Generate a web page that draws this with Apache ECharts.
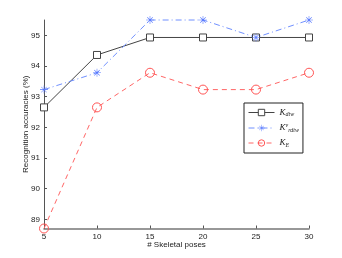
<!DOCTYPE html>
<html><head><meta charset="utf-8">
<script src="https://cdn.jsdelivr.net/npm/echarts@6/dist/echarts.min.js"></script>
<style>html,body{margin:0;padding:0;background:#fff}#c{width:342px;height:258px}</style>
</head><body><div id="c"></div>
<script>
const poses = [5, 10, 15, 20, 25, 30];
const kDtw = [92.65, 94.36, 94.93, 94.93, 94.93, 94.93];
const kRdtw = [93.23, 93.78, 95.5, 95.5, 94.93, 95.5];
const kE = [88.7, 92.65, 93.78, 93.23, 93.23, 93.78];
const xTicks = [5, 10, 15, 20, 25, 30];
const yTicks = [89, 90, 91, 92, 93, 94, 95];

const star = 'path://M0 9.3H20V10.7H0Z M9.3 0H10.7V20H9.3Z M2.6 3.6L3.6 2.6L17.4 16.4L16.4 17.4Z M16.4 2.6L17.4 3.6L3.6 17.4L2.6 16.4Z';
const pair = (ys) => poses.map((x, i) => [x, ys[i]]);
const font = 'Liberation Sans, Arial, sans-serif';

const chart = echarts.init(document.getElementById('c'), null, {renderer: 'canvas'});
chart.setOption({
  animation: false,
  backgroundColor: '#fff',
  grid: {left: 44, right: 33, top: 20, bottom: 29.5, containLabel: false},
  xAxis: {
    type: 'value', min: 5, max: 30, interval: 5,
    name: '# Skeletal poses', nameLocation: 'middle', nameGap: 12, nameMoveOverlap: false,
    nameTextStyle: {fontSize: 8, color: '#222', fontFamily: font},
    axisLine: {lineStyle: {color: '#777', width: 1.5}},
    axisTick: {inside: true, length: 3, lineStyle: {color: '#555'}},
    axisLabel: {fontSize: 8, color: '#222', margin: 4, fontFamily: font},
    splitLine: {show: false}
  },
  yAxis: {
    type: 'value', min: 88.7, max: 95.5,
    name: 'Recognition accuracies (%)', nameLocation: 'middle', nameGap: 14, nameMoveOverlap: false,
    nameTextStyle: {fontSize: 8, color: '#222', fontFamily: font},
    axisLine: {lineStyle: {color: '#555', width: 1}},
    axisTick: {inside: true, length: 3, customValues: yTicks, lineStyle: {color: '#555'}},
    axisLabel: {fontSize: 8, color: '#222', margin: 4, customValues: yTicks, fontFamily: font},
    splitLine: {show: false}
  },
  legend: {
    orient: 'vertical', left: 244, top: 103, width: 56,
    backgroundColor: '#fff', borderColor: '#222', borderWidth: 1,
    padding: [5, 4, 5, 4], itemGap: 5, itemWidth: 26, itemHeight: 8,
    itemStyle: {borderWidth: 1},
    lineStyle: {width: 1},
    textStyle: {fontFamily: font, color: '#222', rich: {
      k: {fontSize: 9, fontStyle: 'italic', fontFamily: 'Liberation Serif, serif', color: '#222'},
      sub: {fontSize: 6, fontStyle: 'italic', fontFamily: 'Liberation Serif, serif', color: '#222', verticalAlign: 'bottom', padding: [4, 0, 0, 0]},
      sup: {fontSize: 6, fontStyle: 'italic', fontFamily: 'Liberation Serif, serif', color: '#222', padding: [0, 0, 5, 0]}
    }},
    formatter: function (n) {
      if (n === 'dtw') return '{k|K}{sub|dtw}';
      if (n === 'rdtw') return '{k|K}{sup|v}{sub|rdtw}';
      return '{k|K}{sub|E}';
    },
    data: ['dtw', 'rdtw', 'E']
  },
  series: [
    {name: 'dtw', type: 'line', data: pair(kDtw), clip: false,
     symbol: 'rect', symbolSize: 7, itemStyle: {color: '#fff', borderColor: '#444', borderWidth: 1},
     lineStyle: {color: '#444', width: 1}, color: '#444'},
    {name: 'rdtw', type: 'line', data: pair(kRdtw), clip: false,
     symbol: star, symbolSize: 8, itemStyle: {color: '#5577ff'},
     lineStyle: {color: '#7090ff', width: 1, type: [6, 3, 1, 3]}, color: '#5577ff'},
    {name: 'E', type: 'line', data: pair(kE), clip: false,
     symbol: 'circle', symbolSize: 9, itemStyle: {color: 'rgba(255,255,255,0)', borderColor: '#ff5555', borderWidth: 1},
     lineStyle: {color: '#ff6666', width: 1, type: [5, 4]}, color: '#ff5555'}
  ]
});
</script></body></html>
